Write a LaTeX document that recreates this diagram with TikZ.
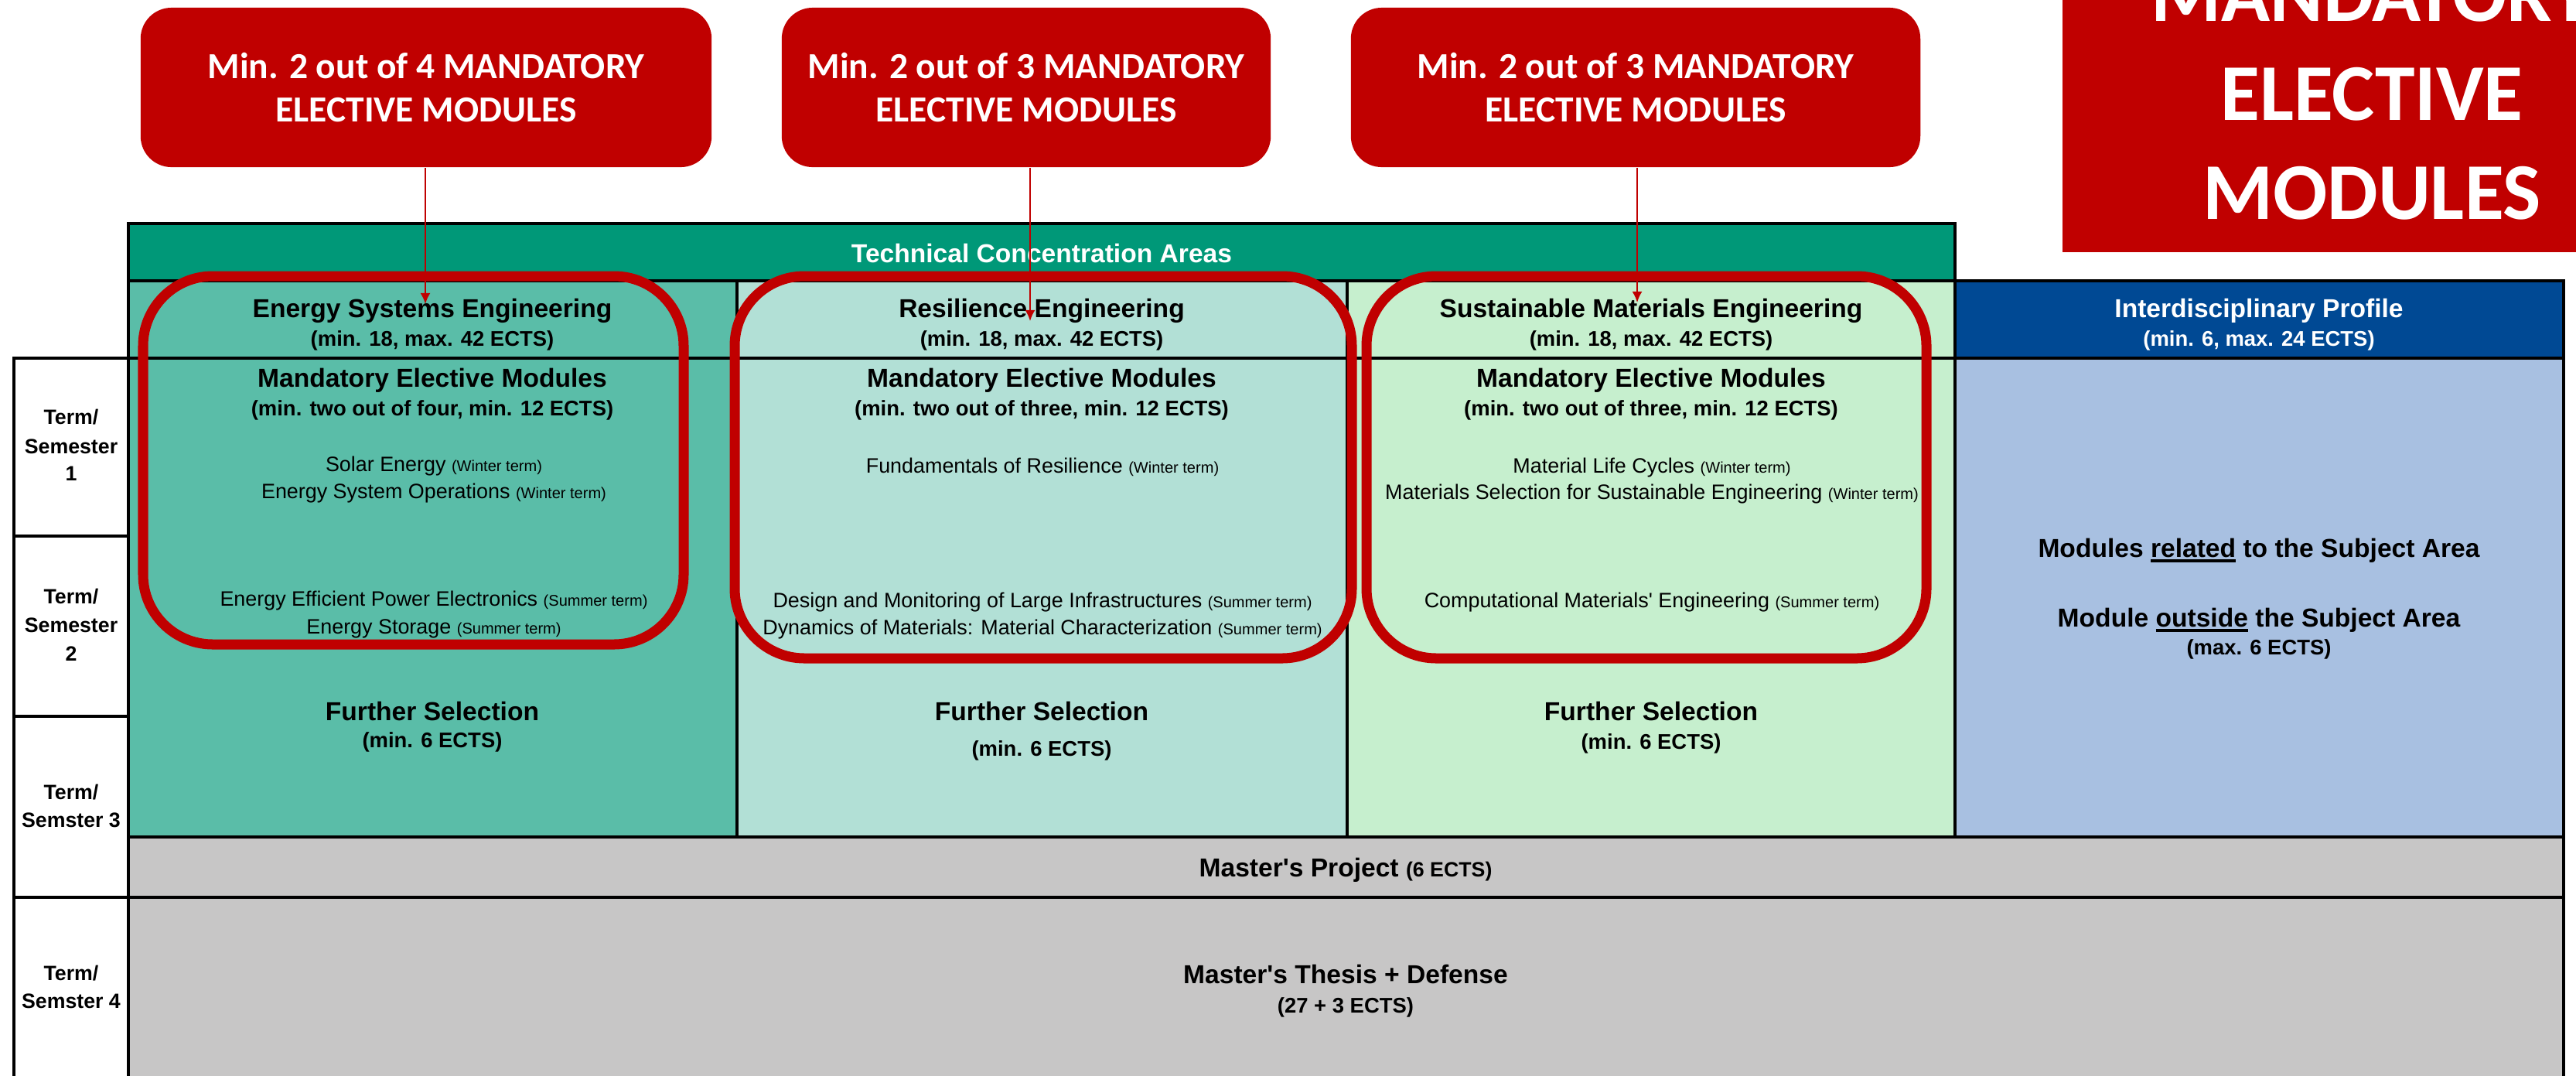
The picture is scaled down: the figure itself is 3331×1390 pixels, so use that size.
\documentclass[tikz,border=0pt]{standalone}
\usepackage{fontspec}
\setmainfont{Liberation Sans}
\newfontfamily\calibri{Carlito}
\usetikzlibrary{arrows.meta}

\definecolor{calloutred}{RGB}{192,0,0}
\definecolor{techgreen}{RGB}{0,152,120}
\definecolor{energygreen}{RGB}{90,189,168}
\definecolor{resigreen}{RGB}{178,224,214}
\definecolor{matgreen}{RGB}{198,239,206}
\definecolor{profblue}{RGB}{0,73,148}
\definecolor{proflight}{RGB}{168,192,225}
\definecolor{projgray}{RGB}{199,198,198}

\newsavebox\ulbox
\newcommand{\trm}[1]{{\fontsize{5.7}{6}\selectfont(#1)}}
\newcommand{\undl}[1]{\sbox\ulbox{#1}\rlap{\rule[-1.9pt]{\wd\ulbox}{1pt}}\usebox\ulbox}

\begin{document}
\begin{tikzpicture}[x=0.01cm,y=-0.01cm,
  cell/.style={draw=black,line width=1.1pt},
  hd/.style={anchor=base,inner sep=0pt,font=\fontsize{9.55}{11}\selectfont\bfseries},
  sub/.style={anchor=base,inner sep=0pt,font=\fontsize{7.8}{9}\selectfont\bfseries},
  crs/.style={anchor=base,inner sep=0pt,font=\fontsize{7.65}{9}\selectfont},
  termlbl/.style={anchor=base,inner sep=0pt,font=\fontsize{7.6}{9}\selectfont\bfseries},
  callout/.style={fill=calloutred,rounded corners=0.4cm,text=white,align=center,
    minimum height=2.06cm,inner sep=0pt,font=\calibri\bfseries\fontsize{13.5}{16.2}\selectfont},
  frame/.style={draw=calloutred,line width=3.7pt,rounded corners=0.9cm},
  pointer/.style={draw=calloutred,line width=0.6pt,-{Latex[length=4pt,width=3.7pt]}}]
	\useasboundingbox (0,0) rectangle (3331,1390);
	\clip (0,0) rectangle (3331,1390);
	
	% draw big red box at the top right
	\fill[calloutred] (2667,-20) rectangle (3345,326);
	\node (bigbox) at (3067,121.5) [text=white,align=center,inner sep=0pt,
	  font=\calibri\bfseries\fontsize{29.6}{36.4}\selectfont] {MANDATORY\\ELECTIVE\\MODULES};
	
	% draw header of concentration areas
	\draw[cell,fill=techgreen] (166,289) rectangle (2528,363);
	\node[hd,text=white] (techhd) at (1347,339) {Technical Concentration Areas};
	
	% draw concentration areas
	\foreach \xa/\xb/\col in {166/953/energygreen,953/1742/resigreen,1742/2528/matgreen}
	{
		\draw[cell,fill=\col] (\xa,363) rectangle (\xb,1082);
	}
	
	% draw interdisciplinary profile
	\draw[cell,fill=profblue] (2528,363) rectangle (3315,463);
	\draw[cell,fill=proflight] (2528,463) rectangle (3315,1082);
	\draw[cell] (166,463) -- (3315,463);
	
	% draw term column
	\foreach \ya/\yb in {463/693,693/926,926/1160,1160/1420}
	{
		\draw[cell,fill=white] (18,\ya) rectangle (166,\yb);
	}
	
	% draw project and thesis
	\draw[cell,fill=projgray] (166,1082) rectangle (3315,1160);
	\draw[cell,fill=projgray] (166,1160) rectangle (3315,1420);
	\draw[black,line width=1.4pt] (166,1082) -- (3315,1082);
	
	% area headings
	\foreach \x/\name/\title in {559/ese/Energy Systems Engineering,1347/re/Resilience Engineering,2135/sme/Sustainable Materials Engineering}
	{
		\node[hd] (\name-hd) at (\x,410) {\title};
		\node[sub] (\name-ects) at (\x,447) {(min. 18, max. 42 ECTS)};
		\node[hd] (\name-me) at (\x,500) {Mandatory Elective Modules};
	}
	\node[sub] (ese-mesub) at (559,537) {(min. two out of four, min. 12 ECTS)};
	\node[sub] (re-mesub) at (1347,537) {(min. two out of three, min. 12 ECTS)};
	\node[sub] (sme-mesub) at (2135,537) {(min. two out of three, min. 12 ECTS)};
	
	% modules of energy systems
	\node[crs] (solar) at (561,609) {Solar Energy \trm{Winter term}};
	\node[crs] (eso) at (561,644) {Energy System Operations \trm{Winter term}};
	\node[crs] (eepe) at (561,783) {Energy Efficient Power Electronics \trm{Summer term}};
	\node[crs] (storage) at (561,819) {Energy Storage \trm{Summer term}};
	
	% modules of resilience
	\node[crs] (fundres) at (1348,611) {Fundamentals of Resilience \trm{Winter term}};
	\node[crs] (design) at (1348,785) {Design and Monitoring of Large Infrastructures \trm{Summer term}};
	\node[crs] (dynamics) at (1348,820) {Dynamics of Materials: Material Characterization \trm{Summer term}};
	
	% modules of sustainable materials
	\node[crs] (lifecyc) at (2136,611) {Material Life Cycles \trm{Winter term}};
	\node[crs] (matsel) at (2136,645) {Materials Selection for Sustainable Engineering \trm{Winter term}};
	\node[crs] (compmat) at (2136,785) {Computational Materials\textquotesingle\ Engineering \trm{Summer term}};
	
	% further selection
	\foreach \x/\name/\yb in {559/ese/966,1347/re/977,2135/sme/968}
	{
		\node[hd] (\name-fs) at (\x,931) {Further Selection};
		\node[sub] (\name-fsects) at (\x,\yb) {(min. 6 ECTS)};
	}
	
	% interdisciplinary texts
	\node[hd,text=white] (profhd) at (2921,410) {Interdisciplinary Profile};
	\node[sub,text=white] (profects) at (2921,447) {(min. 6, max. 24 ECTS)};
	\node[hd] (related) at (2921,720) {Modules \undl{related} to the Subject Area};
	\node[hd] (outside) at (2921,810) {Module \undl{outside} the Subject Area};
	\node[sub] (outsideects) at (2921,846) {(max. 6 ECTS)};
	
	% term labels
	\node[termlbl] (s1a) at (92,548) {Term/};
	\node[termlbl] (s1b) at (92,586) {Semester};
	\node[termlbl] (s1c) at (92,621) {1};
	\node[termlbl] (s2a) at (92,780) {Term/};
	\node[termlbl] (s2b) at (92,817) {Semester};
	\node[termlbl] (s2c) at (92,854) {2};
	\node[termlbl] (s3a) at (92,1033) {Term/};
	\node[termlbl] (s3b) at (92,1069) {Semster 3};
	\node[termlbl] (s4a) at (92,1267) {Term/};
	\node[termlbl] (s4b) at (92,1303) {Semster 4};
	
	% project and thesis texts
	\node[hd] (proj) at (1740,1133) {Master\textquotesingle s Project {\fontsize{7.6}{9}\selectfont(6 ECTS)}};
	\node[hd] (thesis) at (1740,1271) {Master\textquotesingle s Thesis + Defense};
	\node[sub] (thesisects) at (1740,1309) {(27 + 3 ECTS)};
	
	% draw red frames round mandatory electives
	\draw[frame] (185,357) rectangle (884,833);
	\draw[frame] (950,357) rectangle (1748,851);
	\draw[frame] (1767,357) rectangle (2491,851);
	
	% draw callouts
	\node[callout,minimum width=7.38cm] (boxA) at (551,113) {Min. 2 out of 4 MANDATORY\\ELECTIVE MODULES};
	\node[callout,minimum width=6.32cm] (boxB) at (1327,113) {Min. 2 out of 3 MANDATORY\\ELECTIVE MODULES};
	\node[callout,minimum width=7.36cm] (boxC) at (2115,113) {Min. 2 out of 3 MANDATORY\\ELECTIVE MODULES};
	
	% draw pointers from callouts
	\coordinate (tipA) at (550,393);
	\coordinate (tipB) at (1332,415);
	\coordinate (tipC) at (2117,391);
	\draw[pointer] (boxA.south -| tipA) -- (tipA);
	\draw[pointer] (boxB.south -| tipB) -- (tipB);
	\draw[pointer] (boxC.south -| tipC) -- (tipC);
\end{tikzpicture}
\end{document}
